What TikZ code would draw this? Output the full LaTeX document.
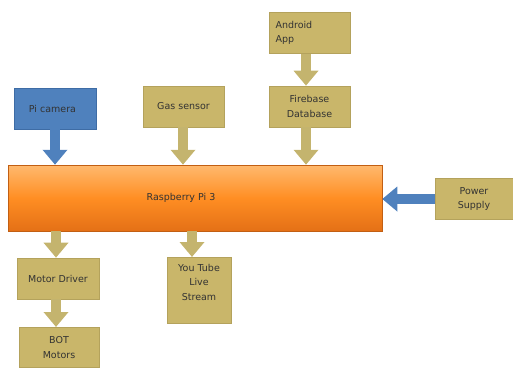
\documentclass[tikz,border=0pt]{standalone}
\usepackage{fontspec}
\setmainfont{DejaVu Sans}
\usetikzlibrary{arrows.meta,positioning}
\definecolor{khaki}{RGB}{201,182,106}
\definecolor{khakiedge}{RGB}{180,162,92}
\definecolor{arrkhaki}{RGB}{196,180,110}
\definecolor{piblue}{RGB}{79,129,189}
\definecolor{piblueedge}{RGB}{62,108,165}
\definecolor{orTop}{RGB}{255,185,110}
\definecolor{orMid}{RGB}{255,142,35}
\definecolor{orBot}{RGB}{228,112,22}
\tikzset{
  txt/.style={font=\fontsize{9.5}{14.5}\selectfont, text=black!80},
  kbox/.style={draw=khakiedge, line width=0.6pt, fill=khaki, minimum width=81pt, minimum height=41pt, inner sep=2pt, align=center, txt},
  bbox/.style={draw=piblueedge, line width=0.6pt, fill=piblue, minimum width=82pt, minimum height=41pt, inner sep=2pt, align=center, txt},
  pibox/.style={draw=orBot!85!black, line width=0.5pt, top color=orTop, bottom color=orBot, middle color=orMid, minimum width=374pt, minimum height=66pt, txt},
  blk/.style={line width=10pt, -{Triangle[width=24pt,length=15pt]}},
  blkk/.style={blk, draw=arrkhaki},
  blkb/.style={blk, draw=piblue},
}
\begin{document}
\begin{tikzpicture}[x=1pt,y=-1pt]
\useasboundingbox (0,0) rectangle (513,367);
\node[bbox] (cam) at (55,108.5) {\hspace*{-5pt}Pi camera};
\node[kbox] (gas) at (183.5,106.5) {Gas sensor};
\node[kbox, text width=68pt, align=left] (app) at (309.5,33) {Android\\App\\[6pt]};
\node[kbox] (fb) at (309.5,106.5) {Firebase\\Database};
\node[pibox] (pi) at (195,198) {\raisebox{2pt}{\hspace*{-28pt}Raspberry Pi 3}};
\node[kbox, minimum width=78pt] (pow) at (474,199) {Power\\Supply};
\node[kbox, minimum width=82pt] (md) at (58,278.5) {Motor Driver};
\node[kbox, minimum width=64pt, minimum height=66pt, anchor=north] (yt) at (199,257) {You Tube\\Live\\Stream\\[2pt]};
\node[kbox, minimum width=80pt, minimum height=40pt, anchor=north] (bot) at (59,327) {BOT\\Motors};
\draw[blkb] (cam.south -| 55,0) -- (pi.north -| 55,0);
\draw[blkk] (gas.south -| 183,0) -- (pi.north -| 183,0);
\draw[blkk] (fb.south -| 306,0) -- (pi.north -| 306,0);
\draw[blkk] (app.south -| 306,0) -- (fb.north -| 306,0);
\draw[blkb] (pow.west) -- (pi.east |- pow.west);
\draw[blkk] (pi.south -| 56,0) -- (md.north -| 56,0);
\draw[blkk] (pi.south -| 192,0) -- (yt.north -| 192,0);
\draw[blkk] (md.south -| 56,0) -- (bot.north -| 56,0);
\end{tikzpicture}
\end{document}
